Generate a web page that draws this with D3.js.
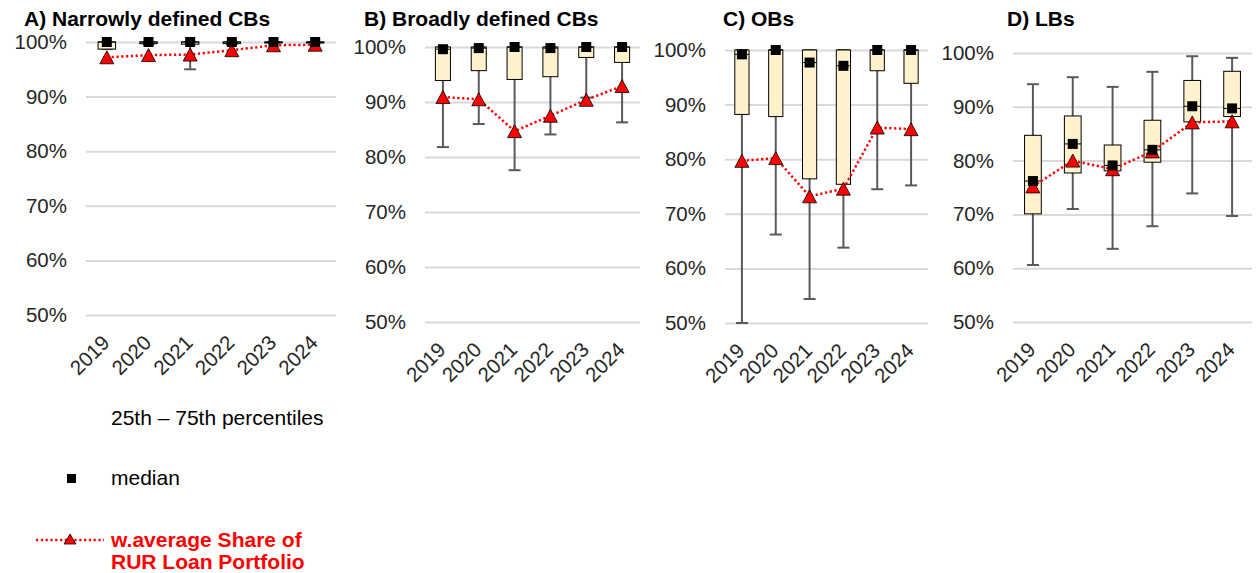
<!DOCTYPE html>
<html>
<head>
  <script src="https://d3js.org/d3.v7.min.js"></script>
  <style>
    body { margin: 0; background: #fff; }
    text { font-family: "Liberation Sans", Arial, sans-serif; }
    .grid line { stroke: #d9d9d9; stroke-width: 2; }
    .grid .domain { stroke: none; }
  </style>
</head>
<body>
<svg id="svg" width="1257" height="573"></svg>
<script>
// ---- data (shares, %) ----
const years = ["2019", "2020", "2021", "2022", "2023", "2024"];
const titles = ["A) Narrowly defined CBs", "B) Broadly defined CBs", "C) OBs", "D) LBs"];
const yTicks = [50, 60, 70, 80, 90, 100];

// one row per panel: A, B, C, D
const whiskerLow = [
  [98.7, 99.6, 95.0, 99.6, 99.9, 99.9],
  [81.8, 86.0, 77.6, 84.1, 90.8, 86.3],
  [50.0, 66.2, 54.4, 63.8, 74.5, 75.2],
  [60.6, 71.0, 63.6, 67.8, 73.9, 69.7]
];
const q1 = [
  [98.7, 99.7, 99.6, 99.7, 99.9, 99.9],
  [93.9, 95.7, 94.1, 94.6, 98.1, 97.2],
  [88.2, 87.8, 76.4, 75.4, 96.2, 93.9],
  [70.1, 77.7, 78.1, 79.7, 87.2, 88.2]
];
const median = [
  [100, 100, 100, 100, 100, 100],
  [99.6, 99.8, 100, 99.8, 100, 100],
  [99.2, 100, 97.7, 97.1, 100, 100],
  [76.2, 83.1, 79.1, 82.0, 90.1, 89.7]
];
const q3 = [
  [100, 100, 100, 100, 100, 100],
  [100, 100, 100, 100, 100, 100],
  [100, 100, 100, 100, 100, 100],
  [84.7, 88.3, 82.9, 87.5, 94.9, 96.6]
];
const whiskerHigh = [
  [100, 100, 100, 100, 100, 100],
  [100, 100, 100, 100, 100, 100],
  [100, 100, 100, 100, 100, 100],
  [94.2, 95.5, 93.7, 96.5, 99.4, 99.1]
];
const wAvg = [
  [97.2, 97.6, 97.7, 98.5, 99.4, 99.5],
  [90.9, 90.5, 84.7, 87.5, 90.4, 92.9],
  [79.7, 80.2, 73.2, 74.6, 85.8, 85.5],
  [75.2, 80.0, 78.4, 81.7, 87.1, 87.3]
];

// ---- layout of the four panels ----
const panels = [
  { x0: 86, x1: 336, yTop: 42, yBot: 315, tx: 24 },
  { x0: 425, x1: 640, yTop: 47, yBot: 322, tx: 364 },
  { x0: 725, x1: 928, yTop: 50, yBot: 323, tx: 723 },
  { x0: 1013, x1: 1252, yTop: 53, yBot: 322, tx: 1007 }
];

const svg = d3.select("#svg");

function triPath(w, h) {
  return `M0,${-h / 2}L${w / 2},${h / 2}L${-w / 2},${h / 2}Z`;
}

panels.forEach((p, i) => {
  const x = d3.scaleBand().domain(years).range([p.x0, p.x1]);
  const y = d3.scaleLinear().domain([50, 100]).range([p.yBot, p.yTop]);
  const g = svg.append("g");
  const bw = x.bandwidth();
  const cx = d => x(d) + bw / 2;

  // title
  svg.append("text")
    .attr("x", p.tx).attr("y", 26)
    .attr("font-size", 21).attr("font-weight", "bold").attr("fill", "#000")
    .text(titles[i]);

  // gridlines + y labels
  const grid = g.append("g").attr("class", "grid")
    .attr("transform", `translate(${p.x0},0)`)
    .call(d3.axisLeft(y).tickValues(yTicks).tickSize(-(p.x1 - p.x0)).tickPadding(19)
      .tickFormat(d => d + "%"));
  grid.selectAll("text").attr("font-size", 20.5).attr("fill", "#262626")
    .style("font-family", '"Liberation Sans", Arial, sans-serif');

  // x labels
  const xa = g.append("g").attr("transform", `translate(0,${p.yBot})`)
    .call(d3.axisBottom(x).tickSize(0));
  xa.select(".domain").remove();
  xa.selectAll("text")
    .attr("x", 0).attr("y", 0).attr("dy", 0)
    .attr("text-anchor", "end")
    .attr("transform", "translate(4,29) rotate(-45)")
    .attr("font-size", 20.5).attr("fill", "#262626")
    .style("font-family", '"Liberation Sans", Arial, sans-serif');

  const idx = years.map((d, j) => j);

  // whiskers
  g.selectAll("line.wh").data(idx).join("line").attr("class", "wh")
    .attr("x1", j => cx(years[j])).attr("x2", j => cx(years[j]))
    .attr("y1", j => y(whiskerLow[i][j])).attr("y2", j => y(whiskerHigh[i][j]))
    .attr("stroke", "#595959").attr("stroke-width", 2);
  [whiskerLow, whiskerHigh].forEach((arr, k) => {
    g.selectAll("line.cap" + k).data(idx).join("line").attr("class", "cap" + k)
      .attr("x1", j => cx(years[j]) - 6).attr("x2", j => cx(years[j]) + 6)
      .attr("y1", j => y(arr[i][j])).attr("y2", j => y(arr[i][j]))
      .attr("stroke", "#595959").attr("stroke-width", 2);
  });

  // boxes
  const boxW = bw * 0.42;
  g.selectAll("rect.box").data(idx).join("rect").attr("class", "box")
    .attr("x", j => cx(years[j]) - boxW / 2).attr("width", boxW)
    .attr("y", j => y(q3[i][j])).attr("height", j => Math.max(1, y(q1[i][j]) - y(q3[i][j])))
    .attr("fill", "#fff2cc").attr("stroke", "#000").attr("stroke-width", 1);
  g.selectAll("line.med").data(idx).join("line").attr("class", "med")
    .attr("x1", j => cx(years[j]) - boxW / 2).attr("x2", j => cx(years[j]) + boxW / 2)
    .attr("y1", j => y(median[i][j])).attr("y2", j => y(median[i][j]))
    .attr("stroke", "#000").attr("stroke-width", 1);

  // weighted average: dotted line + triangles
  const line = d3.line().x(j => cx(years[j])).y(j => y(wAvg[i][j]));
  g.append("path").attr("d", line(idx))
    .attr("fill", "none").attr("stroke", "#ff0000").attr("stroke-width", 2.5)
    .attr("stroke-dasharray", "2.2,2.6");
  g.selectAll("path.tri").data(idx).join("path").attr("class", "tri")
    .attr("d", triPath(14, 13))
    .attr("transform", j => `translate(${cx(years[j])},${y(wAvg[i][j])})`)
    .attr("fill", "#ff0000").attr("stroke", "#000").attr("stroke-width", 0.8);

  // median squares
  g.selectAll("rect.sq").data(idx).join("rect").attr("class", "sq")
    .attr("x", j => cx(years[j]) - 5).attr("y", j => y(median[i][j]) - 5)
    .attr("width", 10).attr("height", 10).attr("fill", "#000");
});

// ---- legend ----
const leg = svg.append("g");
leg.append("text").attr("x", 111).attr("y", 425).attr("font-size", 21).attr("fill", "#000")
  .text("25th \u2013 75th percentiles");
leg.append("rect").attr("x", 67).attr("y", 474).attr("width", 9).attr("height", 9).attr("fill", "#000");
leg.append("text").attr("x", 111).attr("y", 485).attr("font-size", 21).attr("fill", "#000")
  .text("median");
leg.append("line").attr("x1", 36).attr("x2", 104).attr("y1", 540).attr("y2", 540)
  .attr("stroke", "#ff0000").attr("stroke-width", 2.5).attr("stroke-dasharray", "2.2,2.6");
leg.append("path").attr("d", triPath(12, 10)).attr("transform", "translate(70,539)")
  .attr("fill", "#ff0000").attr("stroke", "#000").attr("stroke-width", 0.8);
leg.append("text").attr("x", 111).attr("y", 547).attr("font-size", 21).attr("font-weight", "bold")
  .attr("fill", "#ff0000").text("w.average Share of");
leg.append("text").attr("x", 111).attr("y", 569).attr("font-size", 21).attr("font-weight", "bold")
  .attr("fill", "#ff0000").text("RUR Loan Portfolio");
</script>
</body>
</html>
